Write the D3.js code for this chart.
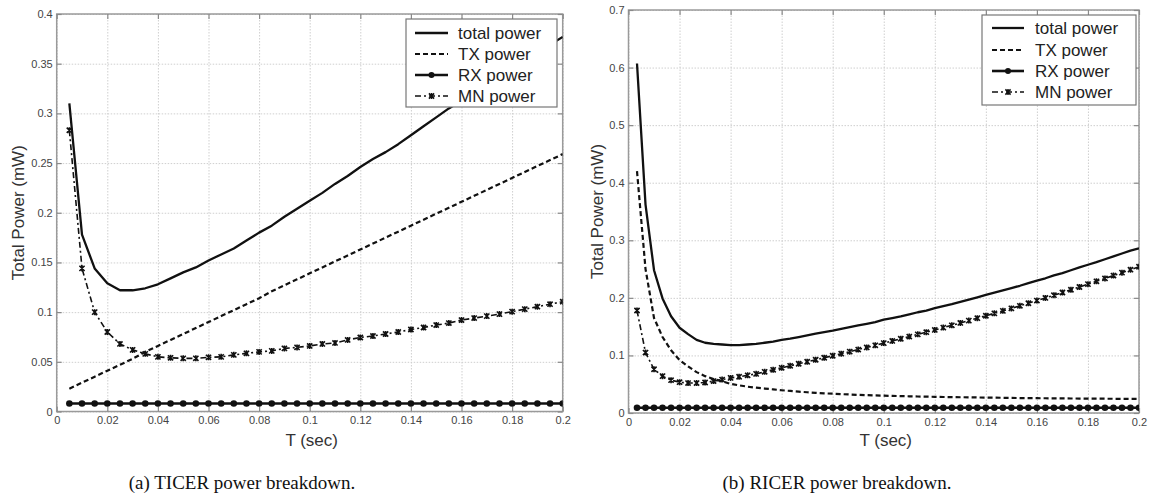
<!DOCTYPE html>
<html>
<head>
<meta charset="utf-8">
<script src="https://cdn.jsdelivr.net/npm/d3@7"></script>
<style>
  html, body { margin: 0; padding: 0; background: #fff; }
  svg { display: block; }
</style>
</head>
<body>
<svg id="chart" width="1150" height="497"></svg>
<script>
// ---------------- DATA ----------------
// (a) TICER
const ticerT = [0.005,0.010,0.015,0.020,0.025,0.030,0.035,0.040,0.045,0.050,
  0.055,0.060,0.065,0.070,0.075,0.080,0.085,0.090,0.095,0.100,
  0.105,0.110,0.115,0.120,0.125,0.130,0.135,0.140,0.145,0.150,
  0.155,0.160,0.165,0.170,0.175,0.180,0.185,0.190,0.195,0.200];
const ticerTotal = [0.310,0.178,0.144,0.129,0.122,0.122,0.124,0.128,0.134,0.140,
  0.145,0.152,0.158,0.164,0.172,0.180,0.187,0.196,0.204,0.212,
  0.220,0.229,0.237,0.246,0.254,0.261,0.269,0.278,0.287,0.296,
  0.305,0.313,0.321,0.329,0.337,0.345,0.353,0.361,0.369,0.377];
const ticerTX = [0.023,0.029,0.035,0.041,0.047,0.053,0.060,0.066,0.072,0.078,
  0.084,0.090,0.096,0.102,0.108,0.114,0.121,0.127,0.133,0.139,
  0.145,0.151,0.157,0.163,0.169,0.175,0.181,0.187,0.193,0.199,
  0.205,0.211,0.217,0.223,0.229,0.235,0.241,0.247,0.253,0.259];
const ticerRX = [0.008,0.008,0.008,0.008,0.008,0.008,0.008,0.008,0.008,0.008,
  0.008,0.008,0.008,0.008,0.008,0.008,0.008,0.008,0.008,0.008,
  0.008,0.008,0.008,0.008,0.008,0.008,0.008,0.008,0.008,0.008,
  0.008,0.008,0.008,0.008,0.008,0.008,0.008,0.008,0.008,0.008];
const ticerMN = [0.283,0.144,0.100,0.080,0.068,0.062,0.058,0.055,0.054,0.0535,
  0.0535,0.0545,0.055,0.057,0.0585,0.060,0.061,0.0635,0.0645,0.066,
  0.068,0.069,0.072,0.0745,0.076,0.078,0.080,0.0825,0.0845,0.087,
  0.089,0.092,0.094,0.096,0.098,0.1005,0.103,0.1055,0.108,0.1105];

// (b) RICER
const ricerT = [0.00333,0.00667,0.01,0.01333,0.01667,0.02,0.02333,0.02667,0.03,0.03333,
  0.03667,0.04,0.04333,0.04667,0.05,0.05333,0.05667,0.06,0.06333,0.06667,
  0.07,0.07333,0.07667,0.08,0.08333,0.08667,0.09,0.09333,0.09667,0.1,
  0.10333,0.10667,0.11,0.11333,0.11667,0.12,0.12333,0.12667,0.13,0.13333,
  0.13667,0.14,0.14333,0.14667,0.15,0.15333,0.15667,0.16,0.16333,0.16667,
  0.17,0.17333,0.17667,0.18,0.18333,0.18667,0.19,0.19333,0.19667,0.2];
const ricerTotal = [0.607,0.362,0.248,0.199,0.168,0.148,0.137,0.127,0.122,0.120,
  0.119,0.118,0.118,0.119,0.120,0.122,0.124,0.127,0.129,0.132,
  0.135,0.138,0.1405,0.143,0.146,0.149,0.152,0.155,0.158,0.162,
  0.165,0.168,0.1715,0.175,0.178,0.182,0.1855,0.189,0.193,0.197,
  0.201,0.205,0.209,0.213,0.217,0.221,0.2255,0.230,0.234,0.239,
  0.243,0.248,0.253,0.2575,0.262,0.267,0.272,0.277,0.282,0.286];
const ricerTX = [0.42,0.25,0.165,0.132,0.109,0.092,0.081,0.071,0.064,0.059,
  0.055,0.0505,0.048,0.0457,0.044,0.0425,0.041,0.0395,0.0383,0.0371,
  0.036,0.035,0.0342,0.0335,0.0328,0.0321,0.0315,0.031,0.0305,0.0301,
  0.0297,0.0293,0.029,0.0287,0.0284,0.0281,0.0278,0.0276,0.0274,0.0272,
  0.027,0.0268,0.0266,0.0264,0.0262,0.026,0.0258,0.0257,0.0256,0.0254,
  0.0253,0.0252,0.0251,0.025,0.0249,0.0248,0.0247,0.0246,0.0245,0.0244];
const ricerRX = [0.009,0.009,0.009,0.009,0.009,0.009,0.009,0.009,0.009,0.009,
  0.009,0.009,0.009,0.009,0.009,0.009,0.009,0.009,0.009,0.009,
  0.009,0.009,0.009,0.009,0.009,0.009,0.009,0.009,0.009,0.009,
  0.009,0.009,0.009,0.009,0.009,0.009,0.009,0.009,0.009,0.009,
  0.009,0.009,0.009,0.009,0.009,0.009,0.009,0.009,0.009,0.009,
  0.009,0.009,0.009,0.009,0.009,0.009,0.009,0.009,0.009,0.009];
const ricerMN = [0.178,0.105,0.076,0.064,0.057,0.0535,0.052,0.052,0.053,0.0555,
  0.058,0.061,0.063,0.0655,0.068,0.0715,0.075,0.0785,0.082,0.0855,
  0.089,0.0925,0.096,0.0995,0.103,0.1066,0.1102,0.1139,0.1176,0.1214,
  0.1252,0.129,0.1328,0.1366,0.1404,0.1443,0.1483,0.1523,0.1564,0.1605,
  0.1647,0.1689,0.1731,0.1774,0.1817,0.1862,0.1907,0.1953,0.1999,0.2046,
  0.2093,0.2141,0.2189,0.2238,0.2287,0.2337,0.2387,0.2438,0.2489,0.2541];

// ticks & labels
const xTickValues = [0,0.02,0.04,0.06,0.08,0.1,0.12,0.14,0.16,0.18,0.2];
const xTickLabels = ["0","0.02","0.04","0.06","0.08","0.1","0.12","0.14","0.16","0.18","0.2"];
const ticerYTickValues = [0,0.05,0.1,0.15,0.2,0.25,0.3,0.35,0.4];
const ticerYTickLabels = ["0","0.05","0.1","0.15","0.2","0.25","0.3","0.35","0.4"];
const ricerYTickValues = [0,0.1,0.2,0.3,0.4,0.5,0.6,0.7];
const ricerYTickLabels = ["0","0.1","0.2","0.3","0.4","0.5","0.6","0.7"];
const seriesNames = ["total power","TX power","RX power","MN power"];
const xAxisTitle = "T (sec)";
const yAxisTitle = "Total Power (mW)";
const captions = ["(a) TICER power breakdown.","(b) RICER power breakdown."];

// ---------------- DRAW ----------------
const SANS = "'Liberation Sans', Arial, sans-serif";
const SERIF = "'Liberation Serif', 'DejaVu Serif', serif";
const svg = d3.select("#chart");

const styles = [
  {stroke:"#111", width:2.3, dash:null, marker:null},
  {stroke:"#111", width:2.2, dash:"5,3", marker:null},
  {stroke:"#111", width:2.6, dash:null, marker:"circle"},
  {stroke:"#111", width:1.6, dash:"6,3,2,3", marker:"x"}
];

function drawPanel(cfg) {
  const g = svg.append("g");
  const x = d3.scaleLinear().domain([0,0.2]).range([cfg.left, cfg.right]);
  const y = d3.scaleLinear().domain([0,cfg.yMax]).range([cfg.bottom, cfg.top]);
  const W = cfg.right - cfg.left, H = cfg.bottom - cfg.top;

  // grid
  const gridX = g.append("g").attr("transform",`translate(0,${cfg.bottom})`)
    .call(d3.axisBottom(x).tickValues(xTickValues).tickSize(-H).tickFormat(""));
  const gridY = g.append("g").attr("transform",`translate(${cfg.left},0)`)
    .call(d3.axisLeft(y).tickValues(cfg.yTicks).tickSize(-W).tickFormat(""));
  [gridX, gridY].forEach(a => {
    a.select(".domain").remove();
    a.selectAll("line").attr("stroke","#cfcfcf").attr("stroke-width",1).attr("stroke-dasharray","1.5,1.5");
  });

  // frame
  g.append("rect").attr("x",cfg.left).attr("y",cfg.top).attr("width",W).attr("height",H)
    .attr("fill","none").attr("stroke","#9a9a9a").attr("stroke-width",1.5);

  // axes with inward ticks
  const ax = g.append("g").attr("transform",`translate(0,${cfg.bottom})`)
    .call(d3.axisBottom(x).tickValues(xTickValues).tickSize(-5).tickPadding(5)
      .tickFormat((d,i)=>xTickLabels[i]));
  const ay = g.append("g").attr("transform",`translate(${cfg.left},0)`)
    .call(d3.axisLeft(y).tickValues(cfg.yTicks).tickSize(-5).tickPadding(4)
      .tickFormat((d,i)=>cfg.yLabels[i]));
  const axT = g.append("g").attr("transform",`translate(0,${cfg.top})`)
    .call(d3.axisTop(x).tickValues(xTickValues).tickSize(-5).tickFormat(""));
  const ayR = g.append("g").attr("transform",`translate(${cfg.right},0)`)
    .call(d3.axisRight(y).tickValues(cfg.yTicks).tickSize(-5).tickFormat(""));
  [ax, ay, axT, ayR].forEach(a => {
    a.select(".domain").remove();
    a.selectAll("line").attr("stroke","#8a8a8a").attr("stroke-width",1.2);
    a.selectAll("text").attr("fill","#444").style("font-size","11px")
      .style("font-family",SANS);
  });

  // series
  const data = [cfg.total, cfg.tx, cfg.rx, cfg.mn];
  const clip = "clip" + cfg.id;
  g.append("clipPath").attr("id",clip).append("rect")
    .attr("x",cfg.left).attr("y",cfg.top).attr("width",W).attr("height",H);
  const plot = g.append("g").attr("clip-path",`url(#${clip})`);
  const line = d3.line().x(d=>x(d[0])).y(d=>y(d[1]));
  [3,1,2,0].forEach(si => {
    const st = styles[si];
    const pts = cfg.T.map((t,i)=>[t, data[si][i]]);
    plot.append("path").datum(pts).attr("d",line).attr("fill","none")
      .attr("stroke",st.stroke).attr("stroke-width",st.width)
      .attr("stroke-dasharray",st.dash).attr("stroke-linejoin","round");
    if (st.marker === "circle") {
      plot.selectAll(null).data(pts).enter().append("circle")
        .attr("cx",d=>x(d[0])).attr("cy",d=>y(d[1])).attr("r",3.3).attr("fill","#111");
    } else if (st.marker === "x") {
      plot.selectAll(null).data(pts).enter().append("path")
        .attr("transform",d=>`translate(${x(d[0])},${y(d[1])})`)
        .attr("d","M-2.6,-2.6L2.6,2.6M-2.6,2.6L2.6,-2.6M0,-3L0,3")
        .attr("stroke","#111").attr("stroke-width",1.6).attr("fill","none");
    }
  });

  // axis titles
  g.append("text").attr("x",(cfg.left+cfg.right)/2 + 2).attr("y",446)
    .attr("text-anchor","middle").style("font-size","17px").style("font-family",SANS)
    .attr("fill","#333").text(xAxisTitle);
  g.append("text").attr("transform",`translate(${cfg.yTitleX},${(cfg.top+cfg.bottom)/2}) rotate(-90)`)
    .attr("text-anchor","middle").style("font-size","17px").style("font-family",SANS)
    .attr("fill","#333").text(yAxisTitle);

  // legend
  const L = cfg.legend;
  const lg = g.append("g");
  lg.append("rect").attr("x",L.x).attr("y",L.y).attr("width",L.w).attr("height",L.h)
    .attr("fill","#fff").attr("stroke","#777").attr("stroke-width",1.2);
  seriesNames.forEach((name,i) => {
    const st = styles[i];
    const yy = L.rowY[i];
    lg.append("line").attr("x1",L.s1).attr("x2",L.s2).attr("y1",yy).attr("y2",yy)
      .attr("stroke",st.stroke).attr("stroke-width",st.width).attr("stroke-dasharray",st.dash);
    const mx = (L.s1+L.s2)/2;
    if (st.marker === "circle") {
      lg.append("circle").attr("cx",mx).attr("cy",yy).attr("r",3).attr("fill","#111");
    } else if (st.marker === "x") {
      lg.append("path").attr("transform",`translate(${mx},${yy})`)
        .attr("d","M-2.6,-2.6L2.6,2.6M-2.6,2.6L2.6,-2.6M0,-3L0,3")
        .attr("stroke","#111").attr("stroke-width",1.5);
    }
    lg.append("text").attr("x",L.tx).attr("y",yy).attr("dy","0.35em")
      .style("font-size","17px").style("font-family",SANS).attr("fill","#222").text(name);
  });

  // caption
  g.append("text").attr("x",cfg.captionX).attr("y",489).attr("text-anchor","middle")
    .style("font-family",SERIF).style("font-size","19px").attr("fill","#111").text(cfg.caption);
}

drawPanel({
  id:"a", left:56.7, right:562.7, top:14, bottom:411.5, yMax:0.4,
  yTicks:ticerYTickValues, yLabels:ticerYTickLabels,
  T:ticerT, total:ticerTotal, tx:ticerTX, rx:ticerRX, mn:ticerMN,
  yTitleX:24,
  legend:{x:406, y:19, w:151, h:88, s1:415, s2:448, tx:458, rowY:[33,54,75,96]},
  caption:captions[0], captionX:242
});
drawPanel({
  id:"b", left:628.5, right:1139, top:10, bottom:413, yMax:0.7,
  yTicks:ricerYTickValues, yLabels:ricerYTickLabels,
  T:ricerT, total:ricerTotal, tx:ricerTX, rx:ricerRX, mn:ricerMN,
  yTitleX:603,
  legend:{x:982, y:15, w:154, h:90, s1:992, s2:1024, tx:1035, rowY:[28,50,71,92]},
  caption:captions[1], captionX:837
});
</script>
</body>
</html>
